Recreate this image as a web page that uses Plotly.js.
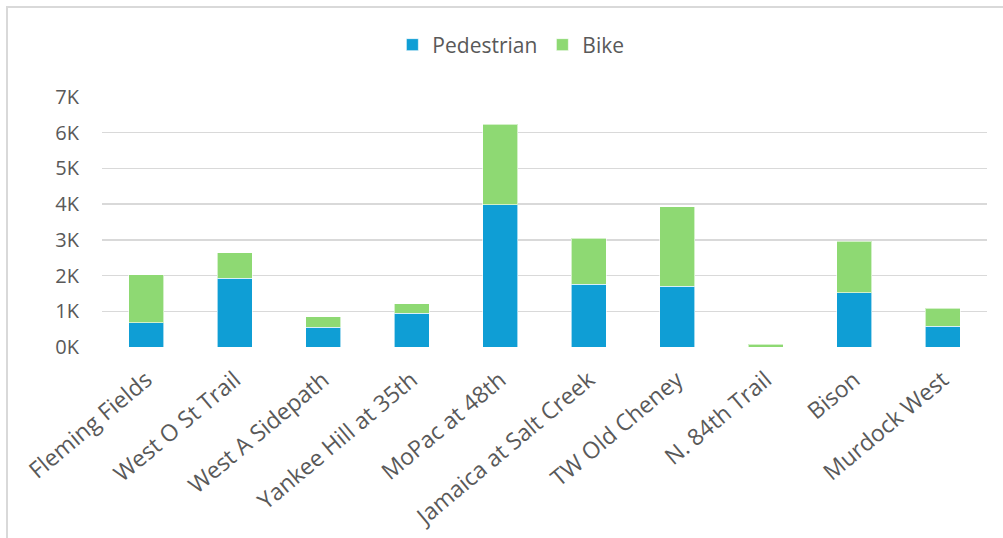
<!DOCTYPE html>
<html>
<head>
<meta charset="utf-8">
<script src="https://cdn.plot.ly/plotly-3.0.1.min.js"></script>
<style>
  html, body { margin: 0; padding: 0; background: #fff; }
  #frame { position: absolute; left: 6px; top: 6px; width: 1100px; height: 600px;
           border-left: 2px solid #D9D9D9; border-top: 2px solid #D9D9D9; }
  #chart { position: absolute; left: 0; top: 0; width: 1003px; height: 538px; }
</style>
</head>
<body>
<div id="frame"></div>
<div id="chart"></div>
<script>
const categories = ["Fleming Fields", "West O St Trail", "West A Sidepath", "Yankee Hill at 35th",
  "MoPac at 48th", "Jamaica at Salt Creek", "TW Old Cheney", "N. 84th Trail", "Bison", "Murdock West"];
const pedestrian = [680, 1930, 560, 940, 3990, 1760, 1700, 0, 1520, 580];
const bike = [1350, 710, 290, 270, 2250, 1280, 2230, 75, 1440, 500];
const yTickVals = [0, 1000, 2000, 3000, 4000, 5000, 6000, 7000];
const yTickText = ["0K", "1K", "2K", "3K", "4K", "5K", "6K", "7K"];

const fontFam = "'Open Sans', Roboto, sans-serif";
const traces = [
  { type: "bar", name: "Pedestrian", x: categories, y: pedestrian,
    marker: { color: "#0F9ED5", line: { color: "rgba(255,255,255,0.6)", width: 1 } } },
  { type: "bar", name: "Bike", x: categories, y: bike,
    marker: { color: "#8ED973", line: { color: "rgba(255,255,255,0.6)", width: 1 } } }
];
const layout = {
  width: 1003, height: 538,
  barmode: "stack", bargap: 0.6,
  paper_bgcolor: "rgba(0,0,0,0)", plot_bgcolor: "rgba(0,0,0,0)",
  margin: { l: 102, r: 16, t: 97, b: 191 },
  font: { family: fontFam, color: "#595959", size: 20 },
  showlegend: true,
  legend: { orientation: "h", x: 0.462, xanchor: "center", y: 1.208, yanchor: "middle",
            font: { size: 21, color: "#595959" }, traceorder: "normal", itemwidth: 30 },
  xaxis: { type: "category", tickangle: -40, showgrid: false, zeroline: false,
           showline: false, ticks: "", ticklabelstandoff: 14,
           tickfont: { size: 23, color: "#595959" } },
  yaxis: { range: [0, 7000], tickvals: yTickVals, ticktext: yTickText,
           showgrid: true, gridcolor: "#D9D9D9", gridwidth: 1.5, zeroline: false,
           ticks: "", ticklabelstandoff: 22, tickfont: { size: 20, color: "#595959" } }
};
Plotly.newPlot("chart", traces, layout, { displayModeBar: false, staticPlot: true });
</script>
</body>
</html>
